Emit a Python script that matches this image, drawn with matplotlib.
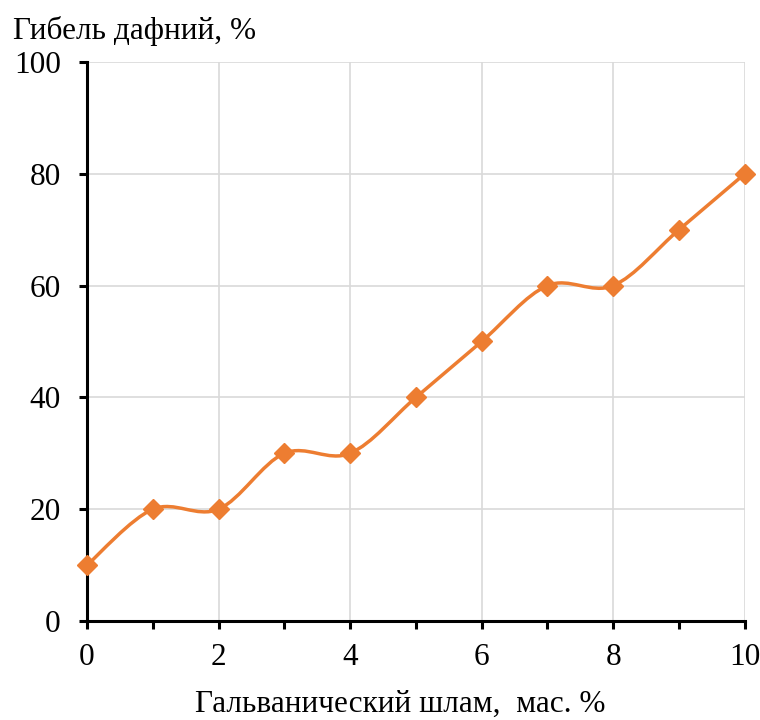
import matplotlib.pyplot as plt
from matplotlib.path import Path
from matplotlib.patches import PathPatch

# dane
szlam = [0, 1, 2, 3, 4, 5, 6, 7, 8, 9, 10]
gibel = [10, 20, 20, 30, 30, 40, 50, 60, 60, 70, 80]

x_ticks = [0, 2, 4, 6, 8, 10]
y_ticks = [0, 20, 40, 60, 80, 100]

kolor = "#ED7D31"

plt.rcParams["font.family"] = ["Liberation Serif", "DejaVu Serif"]

fig = plt.figure(figsize=(7.6, 7.2), dpi=100)
ax = fig.add_axes([0.1145, 0.1375, 0.8655, 0.7764])

# wygładzona linia jak w Excelu (krzywe Beziera)
pts = list(zip(szlam, gibel))
n = len(pts)
verts = [pts[0]]
codes = [Path.MOVETO]
for i in range(n - 1):
    p0 = pts[max(i - 1, 0)]
    p1 = pts[i]
    p2 = pts[i + 1]
    p3 = pts[min(i + 2, n - 1)]
    c1 = (p1[0] + (p2[0] - p0[0]) / 6, p1[1] + (p2[1] - p0[1]) / 6)
    c2 = (p2[0] - (p3[0] - p1[0]) / 6, p2[1] - (p3[1] - p1[1]) / 6)
    verts += [c1, c2, p2]
    codes += [Path.CURVE4] * 3
ax.add_patch(PathPatch(Path(verts, codes), facecolor="none", edgecolor=kolor,
                       linewidth=2.5, zorder=3, capstyle="round"))
ax.plot(szlam, gibel, linestyle="none", marker="D", markersize=10.5,
        color=kolor, zorder=4, clip_on=False)

ax.set_xlim(0, 10)
ax.set_ylim(0, 100)
ax.set_xticks(x_ticks)
ax.set_xticks(szlam, minor=True)
ax.set_yticks(y_ticks)

ax.grid(True, color="#D9D9D9", linewidth=1.2)
ax.set_axisbelow(True)

for s in ["top", "right"]:
    ax.spines[s].set_visible(False)
for s in ["left", "bottom"]:
    ax.spines[s].set_linewidth(2.2)
    ax.spines[s].set_color("black")

ax.tick_params(axis="both", which="both", direction="out", width=2.2,
               length=6, labelsize=22.5, color="black")
ax.tick_params(axis="x", pad=10)
ax.tick_params(axis="y", pad=13)

fig.text(0.017, 0.957, "Гибель дафний, %", fontsize=22.5, ha="left", va="center")
fig.text(0.527, 0.022, "Гальванический шлам,  мас. %", fontsize=22.5,
         ha="center", va="center")

fig.savefig("out.png", dpi=100)
